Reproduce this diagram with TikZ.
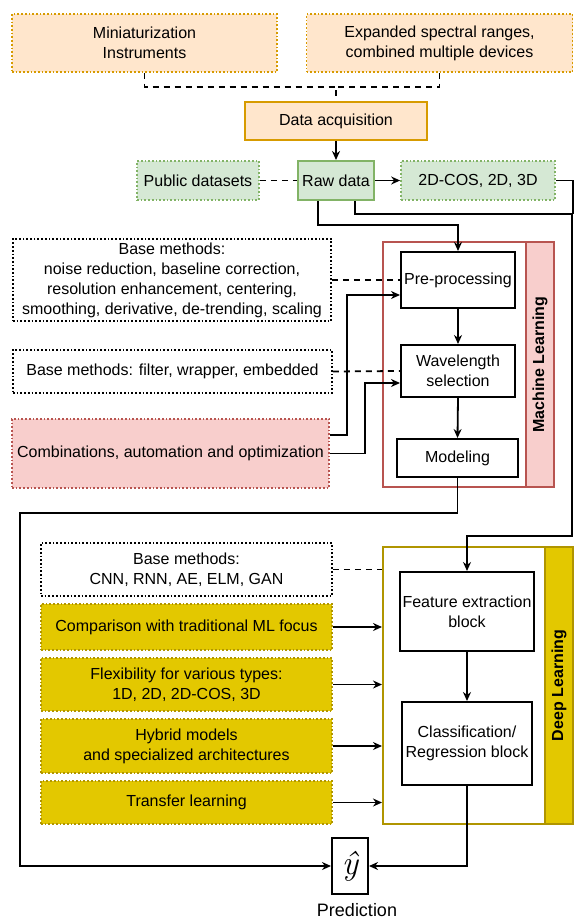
\documentclass[tikz,border=0pt]{standalone}
\usepackage{fontspec}
\setmainfont{Liberation Sans}
\usepackage{amsmath}
\usetikzlibrary{arrows.meta,calc,positioning}
\definecolor{acqfill}{HTML}{FFE6CC}
\definecolor{acqline}{HTML}{D79B00}
\definecolor{rawfill}{HTML}{D5E8D4}
\definecolor{rawline}{HTML}{82B366}
\definecolor{mlfill}{HTML}{F8CECC}
\definecolor{mlline}{HTML}{B85450}
\definecolor{dlfill}{HTML}{E3C800}
\definecolor{dlline}{HTML}{B09500}

\begin{document}
\begin{tikzpicture}[x=1pt, y=-1pt, >={Stealth[length=9pt,width=8pt]},
  font=\fontsize{16}{20}\selectfont,
  box/.style={draw, line width=2pt, align=center, inner sep=0pt, fill=white},
  dotbox/.style={draw, line width=1.7pt, dotted, align=center, inner sep=0pt},
  frame/.style={draw, line width=2pt, inner sep=0pt},
  link/.style={line width=1.8pt},
  dashlink/.style={line width=1.8pt, dash pattern=on 6pt off 5pt}]
  \useasboundingbox (0,0) rectangle (573,920);

  % acquisition
  \node[dotbox, draw=acqline, fill=acqfill, minimum width=265, minimum height=58] (mini) at (144.5,43) {Miniaturization\\Instruments};
  \node[dotbox, draw=acqline, fill=acqfill, minimum width=266, minimum height=58] (expand) at (439.5,43) {Expanded spectral ranges,\\combined multiple devices};
  \node[box, draw=acqline, fill=acqfill, minimum width=182, minimum height=38] (acq) at (336,121) {Data acquisition};
  \node[box, draw=rawline, fill=rawfill, minimum width=76, minimum height=39] (raw) at (336,180.5) {Raw data};
  \node[dotbox, draw=rawline, fill=rawfill, minimum width=122, minimum height=39] (public) at (198,180.5) {Public datasets};
  \node[dotbox, draw=rawline, fill=rawfill, minimum width=154, minimum height=39] (cos) at (478,180.5) {2D-COS, 2D, 3D};

  % machine learning block
  \node[frame, draw=mlline, minimum width=171, minimum height=245] (ml) at (468.5,364.5) {};
  \node[frame, draw=mlline, fill=mlfill, minimum width=28, minimum height=245] (mlbar) at (540,364.5) {};
  \node[rotate=90, font=\fontsize{16}{20}\selectfont\bfseries] (mllabel) at (mlbar) {Machine Learning};
  \node[box, minimum width=114, minimum height=56] (pre) at (458,280) {Pre-processing};
  \node[box, minimum width=114, minimum height=52] (wave) at (458,371) {Wavelength\\selection};
  \node[box, minimum width=121, minimum height=38] (model) at (457.5,458) {Modeling};
  \node[dotbox, minimum width=318, minimum height=82] (base1) at (172,280) {Base methods:\\noise reduction, baseline correction,\\resolution enhancement, centering,\\smoothing, derivative, de-trending, scaling};
  \node[dotbox, minimum width=319, minimum height=43] (base2) at (172.5,371.5) {Base methods: filter, wrapper, embedded};
  \node[dotbox, draw=mlline, fill=mlfill, minimum width=317, minimum height=69] (comb) at (170.5,453.5) {Combinations, automation and optimization};

  % deep learning block
  \node[frame, draw=dlline, minimum width=190, minimum height=277] (dl) at (478,685.5) {};
  \node[frame, draw=dlline, fill=dlfill, minimum width=28, minimum height=277] (dlbar) at (559,685.5) {};
  \node[rotate=90, font=\fontsize{16}{20}\selectfont\bfseries] (dllabel) at (dlbar) {Deep Learning};
  \node[box, minimum width=134, minimum height=79] (feat) at (467,611.5) {Feature extraction\\block};
  \node[box, minimum width=130, minimum height=83] (cls) at (467,743.5) {Classification/\\Regression block};
  \node[dotbox, minimum width=291, minimum height=53] (base3) at (186.5,569.5) {Base methods:\\CNN, RNN, AE, ELM, GAN};
  \node[dotbox, draw=dlline, fill=dlfill, minimum width=291, minimum height=46] (cmp) at (186.5,627) {Comparison with traditional ML focus};
  \node[dotbox, draw=dlline, fill=dlfill, minimum width=291, minimum height=53] (flex) at (186.5,684.5) {Flexibility for various types:\\1D, 2D, 2D-COS, 3D};
  \node[dotbox, draw=dlline, fill=dlfill, minimum width=291, minimum height=54] (hyb) at (186.5,746) {Hybrid models\\and specialized architectures};
  \node[dotbox, draw=dlline, fill=dlfill, minimum width=291, minimum height=43] (trans) at (186.5,802.5) {Transfer learning};

  % output
  \node[box, minimum width=36, minimum height=56] (yhat) at (350,866) {\fontfamily{lmr}\itshape\fontsize{34}{34}\selectfont ŷ};
  \node[font=\fontsize{18}{20}\selectfont] (pred) at (357,910) {Prediction};

  % connectors
  \draw[dashlink] (mini.south) -- ++(0,14) -| (acq.north);
  \draw[dashlink] (expand.south) -- ++(0,14) -| (acq.north);
  \draw[link,->] (acq.south) -- (raw.north);
  \draw[dashlink] (public.east) -- (raw.west);
  \draw[link,->] (raw.east) -- (cos.west);
  \draw[link,->] ([xshift=-18pt]raw.south) -- ++(0,24) -| (pre.north);
  \draw[link,->] ([xshift=19pt]raw.south) -- ++(0,13) -- ++(217,0) -- ++(0,322) -| (feat.north);
  \draw[link] (cos.east) -- ++(17,0) -- ++(0,33);
  \draw[link,->] (pre.south) -- (wave.north);
  \draw[link,->] (wave.south) -- (model.north);
  \draw[dashlink] (base1.east) -- (pre.west);
  \draw[dashlink] (base2.east) -- (wave.west);
  \draw[link,->] ([yshift=18.5pt]comb.east) -- ++(17,0) |- ([yshift=-15pt]pre.west);
  \draw[link,->] (comb.east) -- ++(35,0) |- ([yshift=-12pt]wave.west);
  \draw[dashlink] (base3.east) -- (base3.east -| dl.west);
  \foreach \n in {cmp,flex,hyb,trans}{
    \draw[link,->] (\n.east) -- (\n.east -| dl.west);
  }
  \draw[link,->] (feat.south) -- (cls.north);
  \draw[link,->] (model.south) -- ++(0,35) -- ++(-437.5,0) |- (yhat.west);
  \draw[link,->] (cls.south) |- (yhat.east);
\end{tikzpicture}
\end{document}
